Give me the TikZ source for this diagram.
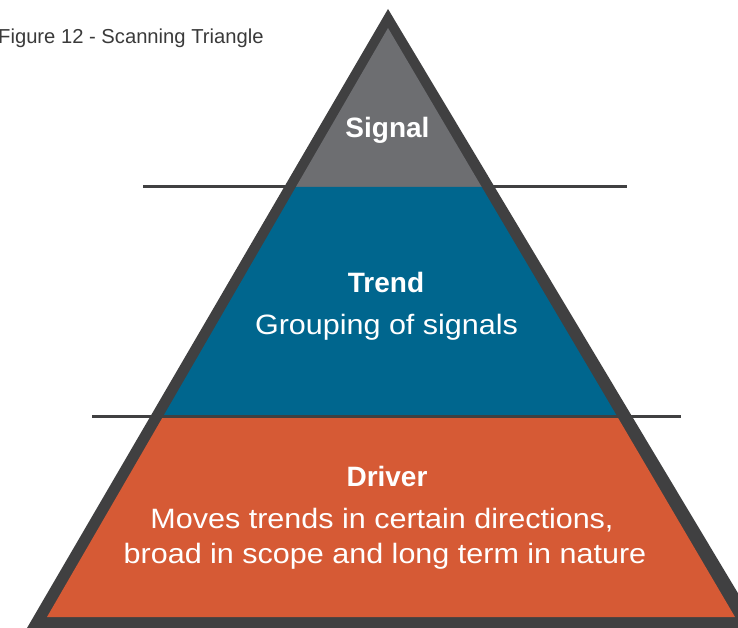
\documentclass[tikz,border=0pt]{standalone}
\usepackage{fontspec}
\setmainfont{Liberation Sans}
\newfontfamily\headfont{Liberation Sans}
\newfontfamily\bodyfont{Liberation Sans}[FakeStretch=1.09]
\usepackage{tikz}
\definecolor{rimgray}{HTML}{404041}
\definecolor{signalgray}{HTML}{6D6E71}
\definecolor{trendblue}{HTML}{00668E}
\definecolor{driverorange}{HTML}{D65A35}
\definecolor{captiongray}{HTML}{3A3A3A}
\tikzset{
  tierhead/.style={text=white,inner sep=0pt,anchor=base,font=\headfont\bfseries\fontsize{28}{32}\selectfont},
  tiertext/.style={text=white,inner sep=0pt,anchor=base,font=\bodyfont\fontsize{28}{32}\selectfont},
  tierline/.style={rimgray,line width=3pt}
}

\begin{document}
\begin{tikzpicture}[x=1pt,y=-1pt]
      \useasboundingbox (0,0) rectangle (738,628);
      \clip (0,0) rectangle (738,628);
      \node[anchor=base west,inner sep=0pt,text=captiongray,font=\fontsize{20.2}{24}\selectfont] (caption) at (-2,44) {Figure 12 - Scanning Triangle};
      \draw[tierline] (143,187) -- (627,187);
      \fill[rimgray] (388,9) -- (20,640) -- (766,640) -- cycle;
      \fill[signalgray] (388,28) -- (295.9,187) -- (481.7,187) -- cycle;
      \fill[trendblue] (295.9,187) -- (163.4,416) -- (616.9,416) -- (481.7,187) -- cycle;
      \fill[driverorange] (163.4,416) -- (47,617) -- (735,617) -- (616.9,416) -- cycle;
      \draw[tierline] (92,416) -- (681,416);
      \node[tierhead] (signal) at (387.5,138) {Signal};
      \node[tierhead] (trend) at (386,292) {Trend};
      \node[tiertext] (trendtxt) at (386.5,334) {Grouping of signals};
      \node[tierhead] (driver) at (387,486) {Driver};
      \node[tiertext] (drivertxt1) at (382,528) {Moves trends in certain directions,};
      \node[tiertext] (drivertxt2) at (385,563) {broad in scope and long term in nature};
    \end{tikzpicture}
\end{document}
